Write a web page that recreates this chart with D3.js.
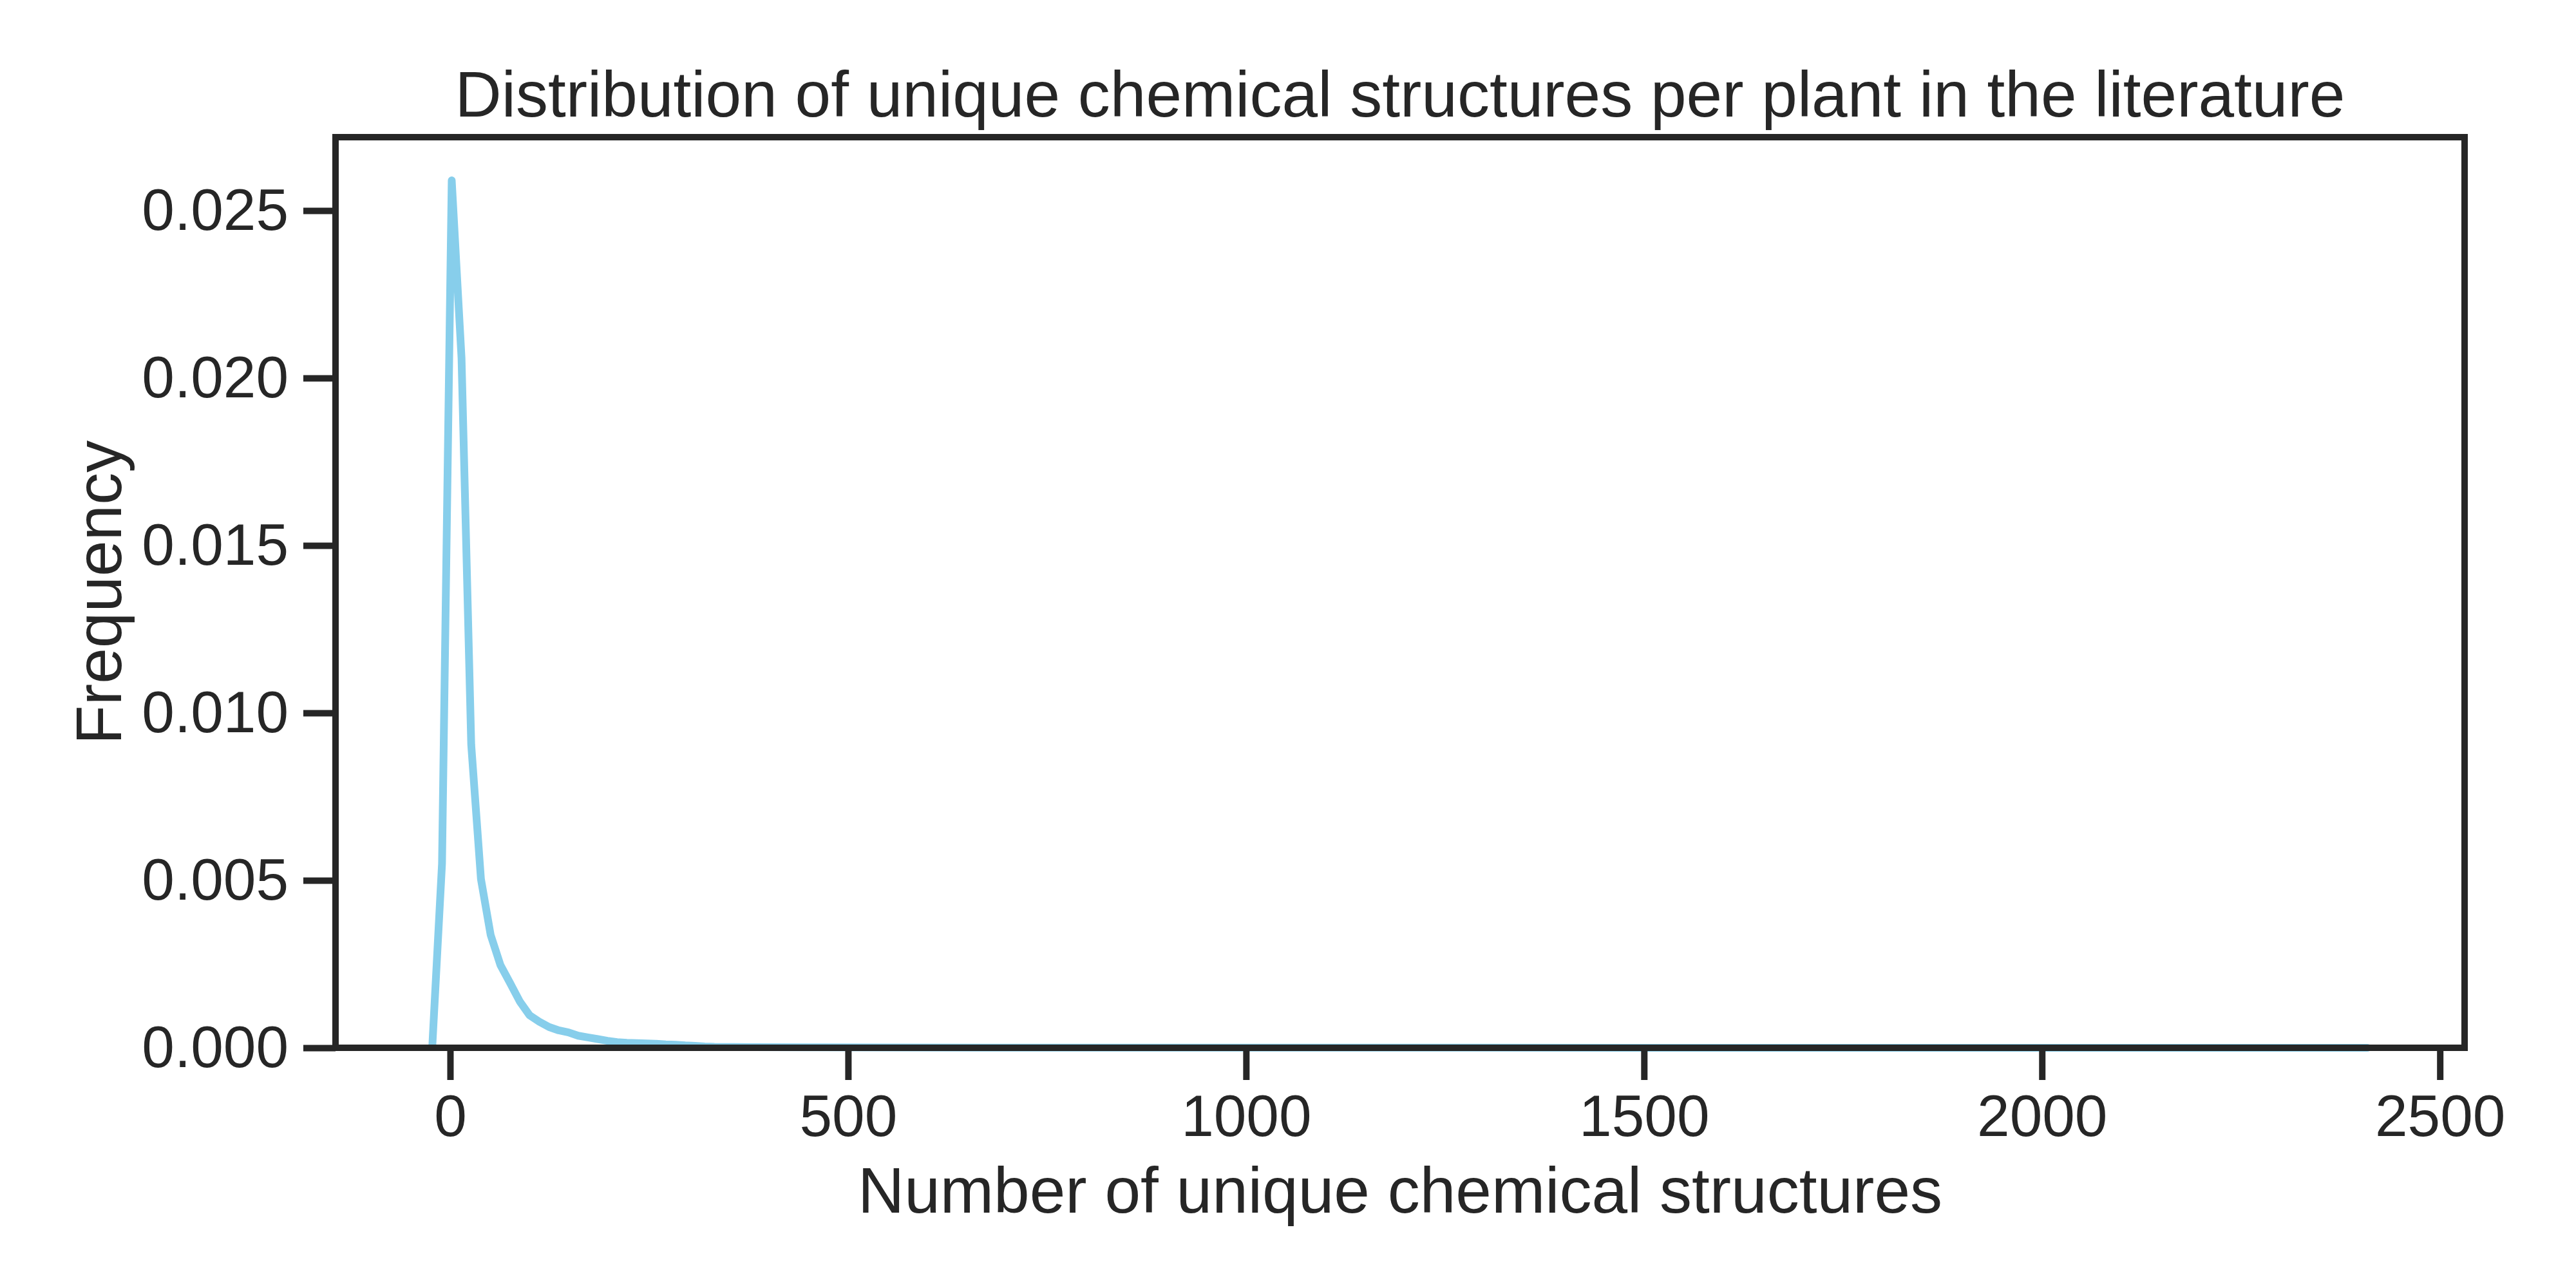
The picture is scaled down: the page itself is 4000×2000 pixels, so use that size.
<!DOCTYPE html>
<html>
<head>
<meta charset="utf-8">
<script src="https://cdn.jsdelivr.net/npm/d3@7"></script>
<style>
  body { margin: 0; background: #fff; }
  text { font-family: "Liberation Sans", Arial, sans-serif; fill: #262626; }
</style>
</head>
<body>
<div id="chart"></div>
<script>
// kde curve (x = number of structures, y = density)
var structures = [-22.4, -10.2, 2.0, 14.3, 26.5, 38.7, 50.9, 63.2, 75.4, 87.6,
    99.8, 112.0, 124.3, 136.5, 148.7, 160.9, 173.1, 185.4, 197.6, 209.8,
    222.0, 234.3, 246.5, 258.7, 270.9, 283.1, 295.4, 307.6, 319.8, 332.0,
    380, 450, 550, 700, 900, 1200, 1600, 2000, 2409];
var frequency = [0.00005, 0.0055, 0.0259, 0.0206, 0.00905, 0.00504, 0.00337, 0.00247, 0.00193, 0.00138,
    0.00097, 0.00078, 0.00062, 0.00052, 0.00046, 0.00036, 0.00031, 0.00026, 0.00021, 0.00017,
    0.00015, 0.00014, 0.00013, 0.00012, 0.0001, 0.00009, 0.00007, 0.00006, 0.00004, 0.00003,
    0.00002, 0.000015, 0.00001, 0.000005, 0.000004, 0.000003, 0.000002, 0.000001, 0.000001];
var xTicks = [0, 500, 1000, 1500, 2000, 2500];
var yTicks = [0, 0.005, 0.010, 0.015, 0.020, 0.025];

var W = 4000, H = 2000;
var plotL = 521, plotR = 3827, plotT = 213, plotB = 1627;

var svg = d3.select("#chart").append("svg")
    .attr("width", W)
    .attr("height", H);

var x = d3.scaleLinear().domain([-144, 2531]).range([plotL, plotR]);
var y = d3.scaleLinear().domain([0, 0.02719]).range([plotB, plotT]);

// the curve
var line = d3.line()
    .x(function (d) { return x(d[0]); })
    .y(function (d) { return y(d[1]); });

svg.append("path")
    .datum(d3.zip(structures, frequency))
    .attr("d", line)
    .attr("fill", "none")
    .attr("stroke", "#87ceeb")
    .attr("stroke-width", 12)
    .attr("stroke-linejoin", "round")
    .attr("stroke-linecap", "round");

// axes
var xAxis = svg.append("g")
    .attr("transform", "translate(0," + plotB + ")")
    .call(d3.axisBottom(x).tickValues(xTicks).tickSize(50).tickSizeOuter(0).tickPadding(22)
        .tickFormat(d3.format("d")));

var yAxis = svg.append("g")
    .attr("transform", "translate(" + plotL + ",0)")
    .call(d3.axisLeft(y).tickValues(yTicks).tickSize(50).tickSizeOuter(0).tickPadding(23)
        .tickFormat(d3.format(".3f")));

[xAxis, yAxis].forEach(function (g) {
    g.select(".domain").remove();
    g.selectAll(".tick line").attr("stroke", "#262626").attr("stroke-width", 10);
    g.selectAll(".tick text").style("font-size", "91px").attr("fill", "#262626");
});

// frame
svg.append("rect")
    .attr("x", plotL)
    .attr("y", plotT)
    .attr("width", plotR - plotL)
    .attr("height", plotB - plotT)
    .attr("fill", "none")
    .attr("stroke", "#262626")
    .attr("stroke-width", 10);

// labels
svg.append("text")
    .attr("x", (plotL + plotR) / 2)
    .attr("y", 181)
    .attr("text-anchor", "middle")
    .style("font-size", "100px")
    .text("Distribution of unique chemical structures per plant in the literature");

svg.append("text")
    .attr("x", (plotL + plotR) / 2)
    .attr("y", 1883)
    .attr("text-anchor", "middle")
    .style("font-size", "100px")
    .text("Number of unique chemical structures");

svg.append("text")
    .attr("transform", "translate(188," + (plotT + plotB) / 2 + ") rotate(-90)")
    .attr("text-anchor", "middle")
    .style("font-size", "100px")
    .text("Frequency");
</script>
</body>
</html>
